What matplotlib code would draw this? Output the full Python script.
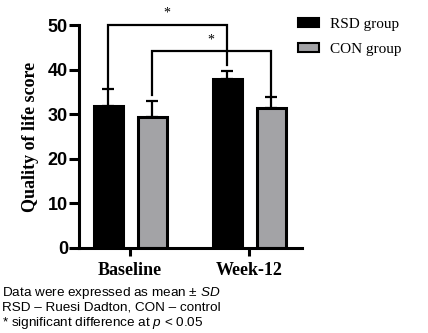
import matplotlib.pyplot as plt
import numpy as np

plt.rcParams['mathtext.fontset'] = 'custom'
plt.rcParams['mathtext.it'] = 'Liberation Sans:italic'

# quality of life score, mean and SD
timepoints = ['Baseline', 'Week-12']
groups = ['RSD group', 'CON group']
rsd_mean = [31.9, 37.8]
rsd_sd = [3.7, 1.9]
con_mean = [29.4, 31.3]
con_sd = [3.6, 2.5]
colors = ['black', '#a3a3a6']

serif = 'Liberation Serif'
sans = 'Liberation Sans'

fig = plt.figure(figsize=(4.28, 3.33), dpi=100)
ax = fig.add_axes([0.1846, 0.2553, 0.5210, 0.6696])

x = np.arange(len(timepoints))
off = 0.185
w = 0.244
for i, (m, s, c) in enumerate([(rsd_mean, rsd_sd, colors[0]), (con_mean, con_sd, colors[1])]):
    xs = x + (i * 2 - 1) * off
    ax.bar(xs, m, width=w, color=c, edgecolor='black', linewidth=2.2, label=groups[i], zorder=2)
    ax.errorbar(xs, m, yerr=[np.zeros(len(s)), s], fmt='none', ecolor='black',
                elinewidth=1.6, capsize=4.5, capthick=1.6, zorder=1)

# significance brackets
def bracket(x0, y0, x1, y1, top, star_x, star_y):
    ax.plot([x0, x0, x1, x1], [y0, top, top, y1], color='black', lw=1.6,
            clip_on=False, solid_joinstyle='miter', zorder=3)
    ax.text(star_x, star_y, '*', ha='center', va='center', fontsize=10,
            family=serif, clip_on=False)

bracket(x[0] - off, rsd_mean[0] + rsd_sd[0] + 0.6, x[1] - off, rsd_mean[1] + rsd_sd[1] + 1.3,
        50.1, 0.31, 52.6)
bracket(x[0] + off, con_mean[0] + con_sd[0] + 1.3, x[1] + off, con_mean[1] + con_sd[1] + 0.5,
        44.2, 0.68, 46.7)

ax.set_xlim(-0.429, 1.445)
ax.set_ylim(0, 50)
ax.set_yticks([0, 10, 20, 30, 40, 50])
ax.set_xticks(x)
ax.set_xticklabels(timepoints, family=serif, fontweight='bold', fontsize=13)
for lab in ax.get_yticklabels():
    lab.set_family(sans)
    lab.set_fontweight('bold')
    lab.set_fontsize(13)
ax.tick_params(axis='y', length=7, width=2.2, pad=1)
ax.tick_params(axis='x', length=6, width=2.2, pad=4)
for side in ['top', 'right']:
    ax.spines[side].set_visible(False)
for side in ['left', 'bottom']:
    ax.spines[side].set_linewidth(2.2)
ax.set_ylabel('Quality of life score', family=serif, fontweight='bold', fontsize=13, labelpad=6)

leg = ax.legend(loc='upper left', bbox_to_anchor=(0.92, 1.095), frameon=False,
                prop={'family': serif, 'size': 11}, handlelength=1.4, handleheight=0.5,
                handletextpad=0.7, labelspacing=0.8)
for h in leg.legend_handles:
    h.set_linewidth(1.5)

notes = ['Data were expressed as mean \u00b1 $\\mathit{SD}$',
         'RSD \u2013 Ruesi Dadton, CON \u2013 control',
         '* significant difference at $\\mathit{p}$ < 0.05']
for k, t in enumerate(notes):
    fig.text(0.005, 1 - (293 + 15 * k) / 333, t, family=sans, fontsize=9.7, va='center')

fig.savefig('out.png', dpi=100)
